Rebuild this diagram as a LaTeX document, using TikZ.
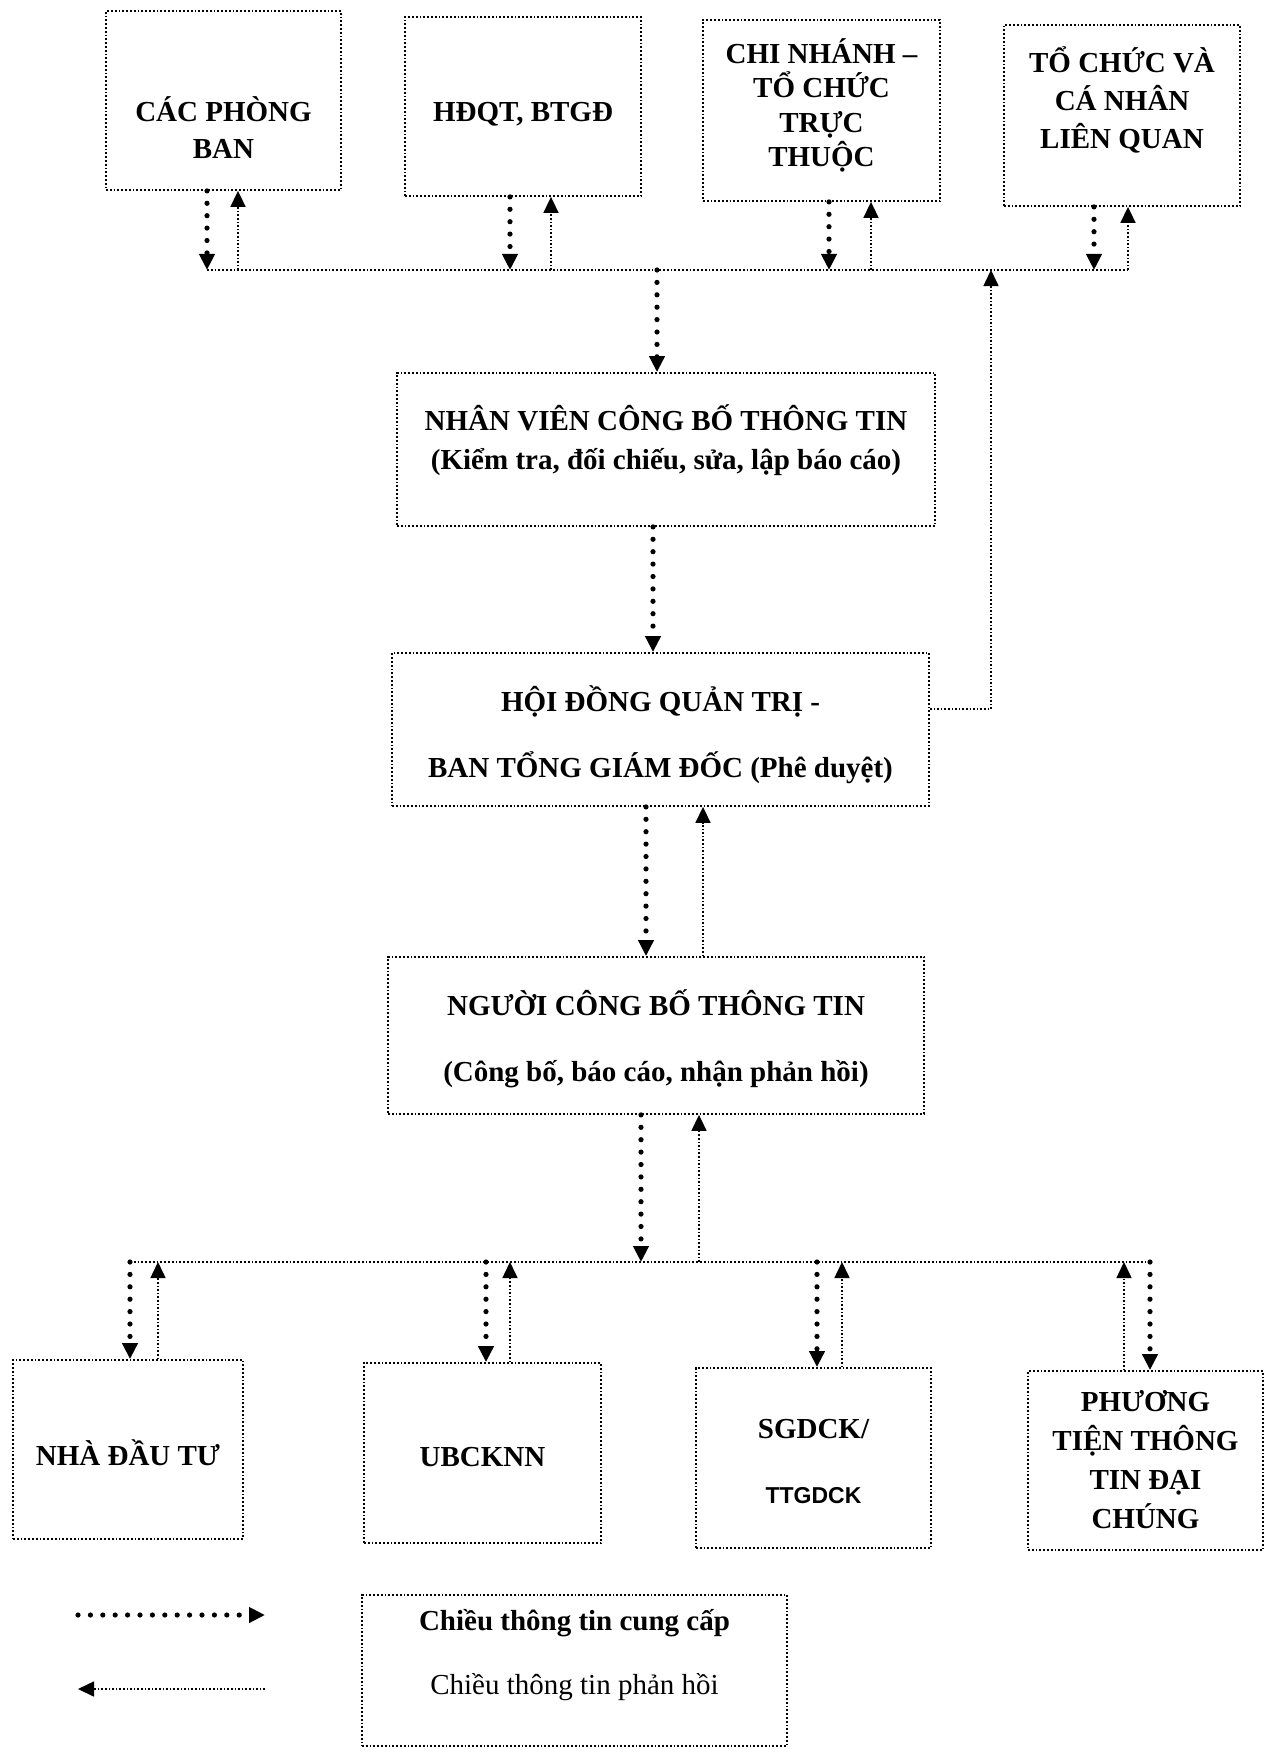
\documentclass[tikz,border=0pt]{standalone}
\usepackage{fontspec}
\setmainfont{Liberation Serif}
\newfontfamily\arialf{Liberation Sans}
\usetikzlibrary{arrows.meta,fit}
\begin{document}
\begin{tikzpicture}[x=0.5pt,y=-0.5pt,
  box/.style={draw, densely dotted, line width=0.9pt, inner sep=0pt},
  txt/.style={font=\fontsize{14.5}{#1}\selectfont\bfseries, align=center, inner sep=0pt},
  txt/.default=18.5,
  give/.style={line width=2.6pt, dash pattern=on 0pt off 6.2pt, line cap=round,
    -{Triangle[length=8pt,width=7.5pt]}},
  back/.style={densely dotted, line width=0.8pt, -{Triangle[length=8pt,width=7.5pt]}},
  bus/.style={densely dotted, line width=0.9pt}]
\useasboundingbox (0,0) rectangle (1266,1755);
\fill[white] (0,0) rectangle (1266,1755);

% boxes
\node[box, fit={(106,11) (341,190)}] (b1) {};
\node[box, fit={(405,17) (641,196)}] (b2) {};
\node[box, fit={(703,20) (940,201)}] (b3) {};
\node[box, fit={(1004,25) (1240,206)}] (b4) {};
\node[box, fit={(397,373) (935,526)}] (nv) {};
\node[box, fit={(392,653) (929,806)}] (hd) {};
\node[box, fit={(388,957) (924,1114)}] (ng) {};
\node[box, fit={(13,1360) (243,1539)}] (d1) {};
\node[box, fit={(364,1363) (601,1543)}] (d2) {};
\node[box, fit={(696,1368) (931,1548)}] (d3) {};
\node[box, fit={(1028,1371) (1263,1550)}] (d4) {};
\node[box, fit={(362,1595) (787,1746)}] (lg) {};

% texts
\node[txt=18.5] (b1t) at (223.5,127.5) {CÁC PHÒNG\\BAN};
\node[txt] (b2t) at (523,114) {HĐQT, BTGĐ};
\node[txt=17.2] (b3t) at (821.5,105.5) {CHI NHÁNH –\\TỔ CHỨC\\TRỰC\\THUỘC};
\node[txt=19] (b4t) at (1122,100) {TỔ CHỨC VÀ\\CÁ NHÂN\\LIÊN QUAN};
\node[txt=19.5] (nvt) at (666,440.5) {NHÂN VIÊN CÔNG BỐ THÔNG TIN\\(Kiểm tra, đối chiếu, sửa, lập báo cáo)};
\node[txt=33] (hdt) at (660.5,735) {HỘI ĐỒNG QUẢN TRỊ -\\BAN TỔNG GIÁM ĐỐC (Phê duyệt)};
\node[txt=33] (ngt) at (656,1039) {NGƯỜI CÔNG BỐ THÔNG TIN\\(Công bố, báo cáo, nhận phản hồi)};
\node[txt] (d1t) at (128,1453) {NHÀ ĐẦU TƯ};
\node[txt] (d2t) at (482.5,1457) {UBCKNN};
\node[txt=32.5] (d3t) at (813.5,1461.5) {SGDCK/\\{\arialf\fontsize{11.5}{13}\selectfont TTGDCK}};
\node[txt=19.5] (d4t) at (1145.5,1460) {PHƯƠNG\\TIỆN THÔNG\\TIN ĐẠI\\CHÚNG};
\node[txt=32] (lgt) at (574.5,1655) {Chiều thông tin cung cấp\\{\mdseries Chiều thông tin phản hồi}};

% top bus
\coordinate (t1) at (207,270);
\coordinate (t1r) at (238,270);
\coordinate (t2) at (510,270);
\coordinate (t2r) at (551,270);
\coordinate (t3) at (829,270);
\coordinate (t3r) at (871,270);
\coordinate (t4) at (1094,270);
\coordinate (t4r) at (1128,270);
\coordinate (tc) at (657,270);
\coordinate (tfb) at (991,270);
\coordinate (fb) at (991,709);
\draw[bus] (t1) -- (t4r);
\draw[give] (b1.south -| t1) -- (t1);
\draw[back] (t1r) -- (b1.south -| t1r);
\draw[give] (b2.south -| t2) -- (t2);
\draw[back] (t2r) -- (b2.south -| t2r);
\draw[give] (b3.south -| t3) -- (t3);
\draw[back] (t3r) -- (b3.south -| t3r);
\draw[give] (b4.south -| t4) -- (t4);
\draw[back] (t4r) -- (b4.south -| t4r);
\draw[give] (tc) -- (nv.north -| tc);

% middle
\coordinate (m1) at (653,0);
\draw[give] (nv.south -| m1) -- (hd.north -| m1);
\draw[back] (hd.east |- fb) -- (fb) -- (tfb);
\coordinate (m2) at (646,0);
\coordinate (m2r) at (703,0);
\draw[give] (hd.south -| m2) -- (ng.north -| m2);
\draw[back] (ng.north -| m2r) -- (hd.south -| m2r);

% bottom bus
\coordinate (bc) at (641,1262);
\coordinate (bcr) at (699,1262);
\coordinate (u1) at (130,1262);
\coordinate (u1r) at (158,1262);
\coordinate (u2) at (486,1262);
\coordinate (u2r) at (510,1262);
\coordinate (u3) at (817,1262);
\coordinate (u3r) at (842,1262);
\coordinate (u4r) at (1124,1262);
\coordinate (u4) at (1150,1262);
\draw[bus] (u1) -- (u4);
\draw[give] (ng.south -| bc) -- (bc);
\draw[back] (bcr) -- (ng.south -| bcr);
\draw[give] (u1) -- (d1.north -| u1);
\draw[back] (d1.north -| u1r) -- (u1r);
\draw[give] (u2) -- (d2.north -| u2);
\draw[back] (d2.north -| u2r) -- (u2r);
\draw[give] (u3) -- (d3.north -| u3);
\draw[back] (d3.north -| u3r) -- (u3r);
\draw[back] (d4.north -| u4r) -- (u4r);
\draw[give] (u4) -- (d4.north -| u4);

% legend
\coordinate (la1) at (78,1615);
\coordinate (la2) at (265,1615);
\coordinate (lb1) at (265,1689);
\coordinate (lb2) at (78,1689);
\draw[give] (la1) -- (la2);
\draw[back] (lb1) -- (lb2);
\end{tikzpicture}
\end{document}
